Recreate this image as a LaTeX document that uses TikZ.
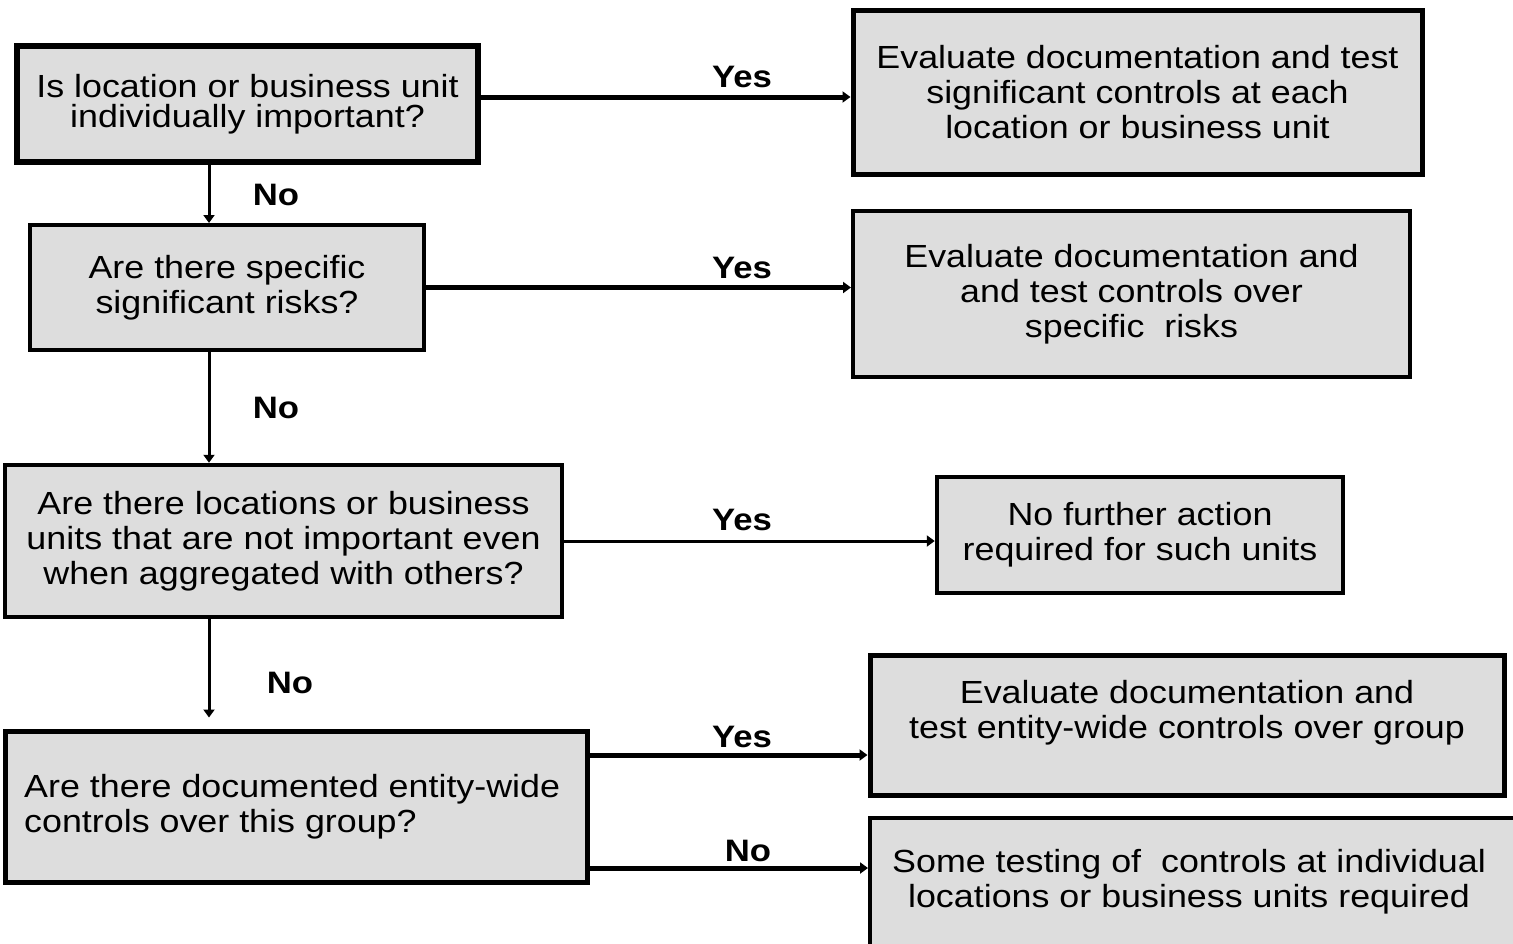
\documentclass[tikz,border=0pt]{standalone}
\usepackage{fontspec}
\setmainfont{Liberation Sans}[FakeStretch=1.12]
\usetikzlibrary{arrows.meta}
\definecolor{boxgray}{RGB}{221,221,221}
\tikzset{
  box/.style={draw=black, fill=boxgray, inner sep=0pt, align=center,
    font=\fontsize{32}{35}\selectfont},
  txt/.style={inner sep=0pt, align=center, font=\fontsize{32}{35}\selectfont},
  conn/.style={draw=black, -{Triangle[length=8pt,width=11pt]}},
  lbl/.style={inner sep=0pt, font=\bfseries\fontsize{31}{32}\selectfont}
}
\begin{document}
\begin{tikzpicture}[x=1pt,y=-1pt]
\useasboundingbox (0,0) rectangle (1513,943);
% question boxes
\node[box, line width=6pt, minimum width=461pt, minimum height=116pt,
  font=\fontsize{32}{30}\selectfont] (q1) at (247.5,104)
  {Is location or business unit\\individually important?};
\node[box, line width=4pt, minimum width=394pt, minimum height=125pt] (q2) at (227,287.5)
  {Are there specific\\significant risks?};
\node[box, line width=4.5pt, minimum width=557pt, minimum height=152pt] (q3) at (283.5,541)
  {Are there locations or business\\units that are not important even\\when aggregated with others?};
\node[box, line width=5pt, minimum width=582pt, minimum height=151pt] (q4) at (296,806.5) {};
\node[txt, align=left, anchor=west] (q4t) at (24,807)
  {Are there documented entity-wide\\controls over this group?};
% result boxes
\node[box, line width=5pt, minimum width=569pt, minimum height=164pt] (r1) at (1137.5,92)
  {Evaluate documentation and test\\significant controls at each\\location or business unit};
\node[box, line width=4pt, minimum width=557pt, minimum height=166pt] (r2) at (1131.5,294)
  {Evaluate documentation and\\and test controls over\\specific\ \ risks};
\node[box, line width=4.5pt, minimum width=406pt, minimum height=116pt] (r3) at (1140,535)
  {No further action\\required for such units};
\node[box, line width=5pt, minimum width=634pt, minimum height=140pt] (r4) at (1187,725) {};
\node[txt] (r4t) at (1187,713)
  {Evaluate documentation and\\test entity-wide controls over group};
\node[box, line width=4pt, minimum width=650pt, minimum height=132pt] (r5) at (1195,884) {};
\node[txt] (r5t) at (1189,882)
  {Some testing of\ \ controls at individual\\locations or business units required};
% horizontal connectors
\draw[conn, line width=5pt] ([yshift=7pt]q1.east) coordinate (a1) -- (a1 -| r1.west);
\draw[conn, line width=5pt] (q2.east) -- (q2.east -| r2.west);
\draw[conn, line width=3pt] (q3.east) -- (q3.east -| r3.west);
\draw[conn, line width=5pt] ([yshift=51.5pt]q4.east) coordinate (a4) -- (a4 -| r4.west);
\draw[conn, line width=5pt] ([yshift=-61.5pt]q4.east) coordinate (a5) -- (a5 -| r5.west);
% vertical connectors
\draw[conn, line width=3pt] ([xshift=-38.5pt]q1.south) coordinate (v1) -- (v1 |- q2.north);
\draw[conn, line width=3pt] ([xshift=-18pt]q2.south) coordinate (v2) -- (v2 |- q3.north);
\draw[conn, line width=3pt] ([xshift=-74.5pt]q3.south) coordinate (v3) -- ([yshift=11pt]v3 |- q4.north);
% labels
\node[lbl] (y1) at (742,77) {Yes};
\node[lbl] (y2) at (742,268) {Yes};
\node[lbl] (y3) at (742,520) {Yes};
\node[lbl] (y4) at (742,737) {Yes};
\node[lbl] (n5) at (748,851) {No};
\node[lbl] (n1) at (276,195) {No};
\node[lbl] (n2) at (276,408) {No};
\node[lbl] (n3) at (290,683) {No};
\end{tikzpicture}
\end{document}
